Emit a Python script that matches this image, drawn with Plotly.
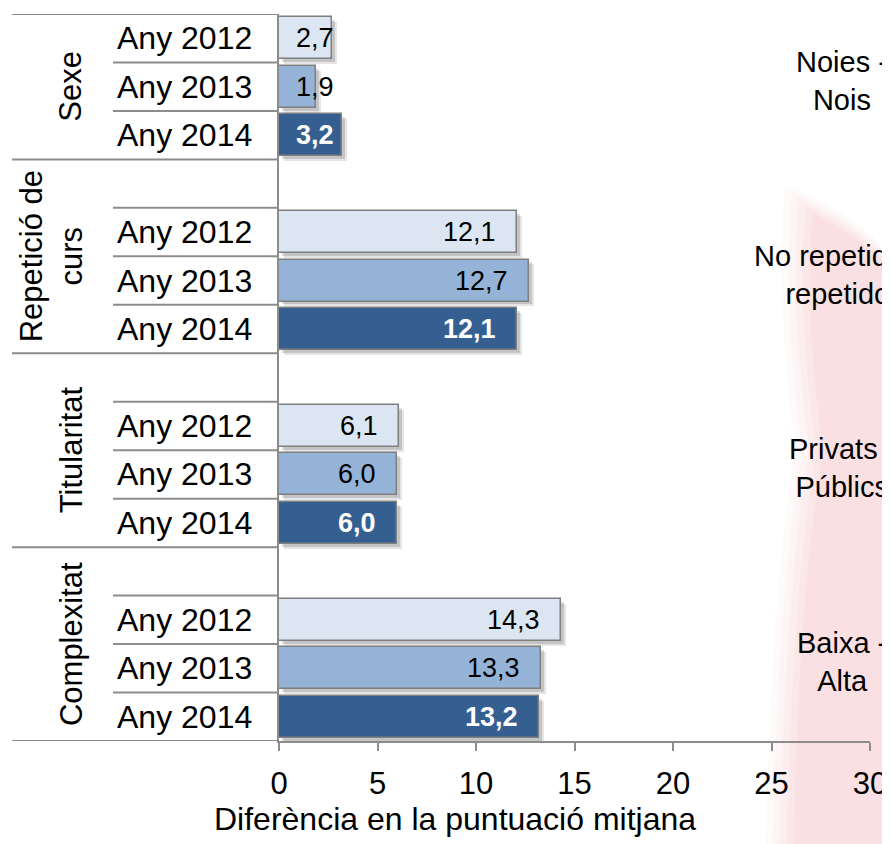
import plotly.graph_objects as go

# ---------------- data ----------------
groups = ["Sexe", "Repetició de<br>curs", "Titularitat", "Complexitat"]
comparisons = ["Noies -<br>Nois", "No repetidor -<br>repetidor", "Privats -<br>Públics", "Baixa -<br>Alta"]
years = ["Any 2012", "Any 2013", "Any 2014"]
v2012 = [2.7, 12.1, 6.1, 14.3]
v2013 = [1.9, 12.7, 6.0, 13.3]
v2014 = [3.2, 12.1, 6.0, 13.2]
series = [v2012, v2013, v2014]
x_ticks = [0, 5, 10, 15, 20, 25, 30]
x_title = "Diferència en la puntuació mitjana"

# ---------------- styling ----------------
FONT = "Liberation Sans, Arial, sans-serif"
bar_colors = ["#dce6f2", "#95b3d7", "#365f91"]
label_colors = ["#000000", "#000000", "#ffffff"]
grid_col = "#8c8c8c"
W, H = 890, 844
OFF = 8  # page margin around the figure
X0, X1, Y0, Y1 = 279 - OFF, 870 - OFF, 14 - OFF, 741 - OFF
L, R, T, B = X0, W - X1, Y0, H - Y1
PW, PH = X1 - X0, Y1 - Y0


def px_x(px):
    return (px - OFF - X0) / PW


def px_y(py):
    return 1 - (py - OFF - Y0) / PH


# row layout: blank row before every group except the first
rows = [[], [], []]
group_rows = []
r = 0
for g in range(len(groups)):
    start = r
    if g > 0:
        r += 1
    for k in range(3):
        rows[k].append(r)
        r += 1
    group_rows.append((start, r - 1))
n_rows = r

fig = go.Figure()
BW = 0.866
# soft shadows
for k in range(3):
    for dx, dy, a in [(0.25, 0.10, 0.10), (0.15, 0.06, 0.14)]:
        fig.add_trace(go.Bar(
            y=rows[k], x=series[k], base=dx, orientation="h", width=BW,
            offset=-BW / 2 + dy, marker=dict(color=f"rgba(0,0,0,{a})", line=dict(width=0)),
            hoverinfo="skip", showlegend=False))
for k in range(3):
    fig.add_trace(go.Bar(
        y=rows[k], x=series[k], orientation="h", width=BW, name=years[k],
        marker=dict(color=bar_colors[k], line=dict(color="#7f7f7f", width=1.5)),
        showlegend=False))

ann = []
shapes = []
# value labels
for k in range(3):
    for g, v in enumerate(series[k]):
        txt = f"{v:.1f}".replace(".", ",")
        if k == 2:
            txt = f"<b>{txt}</b>"
        big = v >= 5
        ann.append(dict(x=v if big else 0, y=rows[k][g], xref="x", yref="y",
                        text=txt, showarrow=False,
                        xanchor="right" if big else "left",
                        xshift=-19 if big else 15,
                        font=dict(family=FONT, size=27, color=label_colors[k])))
# year labels
for k in range(3):
    for g in range(len(groups)):
        ann.append(dict(x=px_x(115), y=rows[k][g], xref="paper", yref="y",
                        text=years[k], showarrow=False, xanchor="left",
                        font=dict(family=FONT, size=32, color="#000000")))
# group labels + right-side comparison labels
for g, (a, b) in enumerate(group_rows):
    two = "<br>" in groups[g]
    ann.append(dict(x=px_x(51 if two else 71), y=(a + b) / 2, xref="paper", yref="y",
                    text=groups[g], showarrow=False, textangle=-90,
                    xanchor="center", yanchor="middle",
                    font=dict(family=FONT, size=31, color="#000000")))
    ann.append(dict(x=px_x(842), y=rows[1][g], xref="paper", yref="y",
                    text=comparisons[g], showarrow=False, yshift=6,
                    xanchor="center", yanchor="middle",
                    font=dict(family=FONT, size=29, color="#000000")))
# axis title
ann.append(dict(x=px_x(455), y=px_y(819), xref="paper", yref="paper",
                text=x_title, showarrow=False, xanchor="center", yanchor="middle",
                font=dict(family=FONT, size=32, color="#000000")))

# table lines
line = dict(color=grid_col, width=2)
for g, (a, b) in enumerate(group_rows):
    shapes.append(dict(type="line", xref="paper", yref="y", x0=px_x(12), x1=0,
                       y0=a - 0.5, y1=a - 0.5, line=line))
    for k in range(3):
        yb = rows[k][g] - 0.5
        if yb != a - 0.5:
            shapes.append(dict(type="line", xref="paper", yref="y", x0=px_x(113), x1=0,
                               y0=yb, y1=yb, line=line))
shapes.append(dict(type="line", xref="paper", yref="y", x0=px_x(12), x1=0,
                   y0=n_rows - 0.5, y1=n_rows - 0.5, line=line))

# faint watermark (soft layered band)
for i, a in enumerate([0.035, 0.04, 0.045, 0.05, 0.055]):
    d = i * 7
    shapes.append(dict(type="path", xref="paper", yref="paper", layer="below",
                       path=(f"M {px_x(785 + d)} {px_y(185 + d)} "
                             f"Q {px_x(905)} {px_y(235 + d)} {px_x(905)} {px_y(300)} "
                             f"L {px_x(905)} {px_y(870)} L {px_x(765 + d)} {px_y(870)} "
                             f"Q {px_x(770 + d)} {px_y(600)} {px_x(795 + d)} {px_y(450)} "
                             f"Q {px_x(775 + d)} {px_y(300)} {px_x(785 + d)} {px_y(185 + d)} Z"),
                       fillcolor=f"rgba(230,110,125,{a})", line=dict(width=0)))

fig.update_layout(
    width=W, height=H, margin=dict(l=L, r=R, t=T, b=B, pad=0),
    paper_bgcolor="#ffffff", plot_bgcolor="rgba(0,0,0,0)",
    barmode="overlay", bargap=0,
    annotations=ann, shapes=shapes,
    font=dict(family=FONT, color="#000000"),
)
fig.update_xaxes(range=[0, 30], tickvals=x_ticks, ticktext=[str(t) for t in x_ticks],
                 showgrid=False, zeroline=False, showline=True, linecolor=grid_col, linewidth=2,
                 ticks="outside", ticklen=8, tickwidth=2, tickcolor=grid_col,
                 tickfont=dict(family=FONT, size=31, color="#000000"), ticklabelstandoff=6)
fig.update_yaxes(range=[n_rows - 0.5, -0.5], showticklabels=False, showgrid=False,
                 zeroline=False, showline=True, linecolor=grid_col, linewidth=2, ticks="")

fig.write_html("out.html")
